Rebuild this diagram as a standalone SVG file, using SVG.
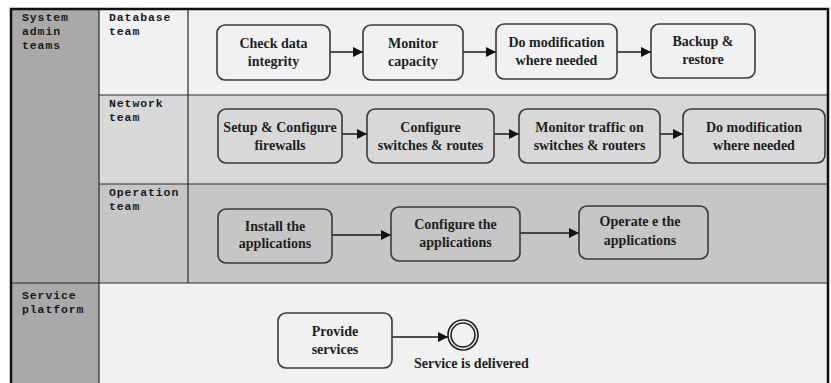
<svg xmlns="http://www.w3.org/2000/svg" width="831" height="383" viewBox="0 0 831 383">
<style>
.lbl{font-family:"Liberation Mono",monospace;font-weight:bold;font-size:11.5px;letter-spacing:0.9px;fill:#1a1a1a}
.nt{font-family:"Liberation Serif",serif;font-weight:bold;font-size:14px;fill:#1e1e1e;text-anchor:middle}
.node{stroke:#3a3a3a;stroke-width:1.6}
.grid{stroke:#2a2a2a;stroke-width:1.2;fill:none}
.con{stroke:#1a1a1a;stroke-width:1.5;fill:none}
</style>
<defs>
<marker id="ah" viewBox="0 0 10 10" refX="10" refY="5" markerWidth="7" markerHeight="7.5" orient="auto" markerUnits="strokeWidth">
<path d="M0,0 L10,5 L0,10 Z" fill="#111"/>
</marker>
</defs>
<rect width="831" height="383" fill="#ffffff"/>
<g id="lanes">
<rect x="11" y="9" width="88" height="374" fill="#a9a9a9"/>
<rect x="99" y="9" width="729" height="86" fill="#f1f1f1"/>
<rect x="99" y="95" width="729" height="89" fill="#d8d8d8"/>
<rect x="99" y="184" width="729" height="99" fill="#c6c6c6"/>
<rect x="99" y="283" width="729" height="100" fill="#f1f1f1"/>
<line class="grid" x1="99" y1="9" x2="99" y2="383"/>
<line class="grid" x1="188" y1="9" x2="188" y2="283"/>
<line class="grid" x1="99" y1="95" x2="828" y2="95"/>
<line class="grid" x1="99" y1="184" x2="828" y2="184"/>
<line class="grid" x1="11" y1="283" x2="828" y2="283"/>
<path d="M11,383 L11,9 L828,9 L828,383" fill="none" stroke="#111" stroke-width="2.5"/>
<text class="lbl" x="22" y="21">System</text>
<text class="lbl" x="22" y="35">admin</text>
<text class="lbl" x="22" y="49">teams</text>
<text class="lbl" x="109" y="21">Database</text>
<text class="lbl" x="109" y="35">team</text>
<text class="lbl" x="109" y="107">Network</text>
<text class="lbl" x="109" y="121">team</text>
<text class="lbl" x="109" y="196">Operation</text>
<text class="lbl" x="109" y="210">team</text>
<text class="lbl" x="22" y="299">Service</text>
<text class="lbl" x="22" y="313">platform</text>
</g>
<g id="connectors">
<line class="con" x1="330" y1="52" x2="363" y2="52" marker-end="url(#ah)"/>
<line class="con" x1="463" y1="52" x2="496" y2="52" marker-end="url(#ah)"/>
<line class="con" x1="617" y1="52" x2="651" y2="52" marker-end="url(#ah)"/>
<line class="con" x1="342" y1="134" x2="367" y2="134" marker-end="url(#ah)"/>
<line class="con" x1="494" y1="134" x2="519" y2="134" marker-end="url(#ah)"/>
<line class="con" x1="660" y1="134" x2="683" y2="134" marker-end="url(#ah)"/>
<line class="con" x1="332" y1="235" x2="391" y2="235" marker-end="url(#ah)"/>
<line class="con" x1="520" y1="233" x2="579" y2="233" marker-end="url(#ah)"/>
<line class="con" x1="392" y1="337" x2="448" y2="337" marker-end="url(#ah)"/>
</g>
<g id="n1"><rect class="node" x="217" y="25" width="113" height="55" rx="8" fill="#f1f1f1"/><text class="nt" x="273.5" y="48">Check data</text><text class="nt" x="273.5" y="66">integrity</text></g>
<g id="n2"><rect class="node" x="363" y="25" width="100" height="55" rx="8" fill="#f1f1f1"/><text class="nt" x="413" y="48">Monitor</text><text class="nt" x="413" y="66">capacity</text></g>
<g id="n3"><rect class="node" x="496" y="24" width="121" height="55" rx="8" fill="#f1f1f1"/><text class="nt" x="556.5" y="47">Do modification</text><text class="nt" x="556.5" y="65">where needed</text></g>
<g id="n4"><rect class="node" x="651" y="24" width="104" height="54" rx="8" fill="#f1f1f1"/><text class="nt" x="703" y="46">Backup &amp;</text><text class="nt" x="703" y="64">restore</text></g>
<g id="n5"><rect class="node" x="218" y="109" width="124" height="54" rx="8" fill="#d8d8d8"/><text class="nt" x="280" y="132">Setup &amp; Configure</text><text class="nt" x="280" y="150">firewalls</text></g>
<g id="n6"><rect class="node" x="367" y="109" width="127" height="54" rx="8" fill="#d8d8d8"/><text class="nt" x="430.5" y="132">Configure</text><text class="nt" x="430.5" y="150">switches &amp; routes</text></g>
<g id="n7"><rect class="node" x="519" y="109" width="141" height="54" rx="8" fill="#d8d8d8"/><text class="nt" x="589.5" y="132">Monitor traffic on</text><text class="nt" x="589.5" y="150">switches &amp; routers</text></g>
<g id="n8"><rect class="node" x="683" y="109" width="142" height="54" rx="8" fill="#d8d8d8"/><text class="nt" x="754" y="132">Do modification</text><text class="nt" x="754" y="150">where needed</text></g>
<g id="n9"><rect class="node" x="218" y="209" width="114" height="54" rx="8" fill="#c6c6c6"/><text class="nt" x="275" y="231">Install the</text><text class="nt" x="275" y="248">applications</text></g>
<g id="n10"><rect class="node" x="391" y="207" width="129" height="54" rx="8" fill="#c6c6c6"/><text class="nt" x="455.5" y="229">Configure the</text><text class="nt" x="455.5" y="247">applications</text></g>
<g id="n11"><rect class="node" x="579" y="206" width="129" height="53" rx="8" fill="#c6c6c6"/><text class="nt" x="640" y="226">Operate e the</text><text class="nt" x="640" y="245">applications</text></g>
<g id="n12"><rect class="node" x="278" y="313" width="114" height="55" rx="8" fill="#f1f1f1"/><text class="nt" x="335" y="336">Provide</text><text class="nt" x="335" y="354">services</text></g>
<g id="end">
<circle cx="463" cy="335" r="15" fill="#f1f1f1" stroke="#222" stroke-width="1.6"/>
<circle cx="463" cy="335" r="12" fill="none" stroke="#222" stroke-width="1.6"/>
<text class="nt" x="414" y="368" style="text-anchor:start">Service is delivered</text>
</g>
</svg>
